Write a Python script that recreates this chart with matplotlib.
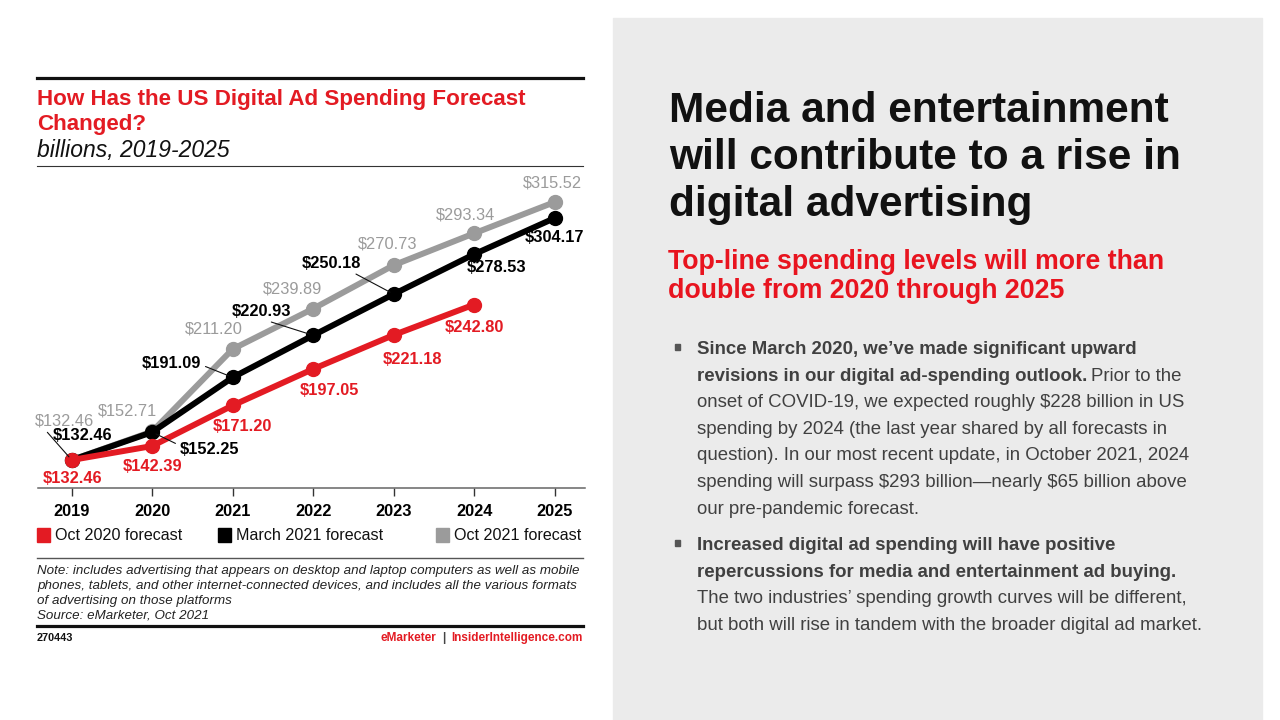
import matplotlib
matplotlib.use("Agg")
import matplotlib.pyplot as plt
from matplotlib.patches import Rectangle
from matplotlib.lines import Line2D

W, H = 1280, 720

# data
years = [2019, 2020, 2021, 2022, 2023, 2024, 2025]
oct2020 = [132.46, 142.39, 171.20, 197.05, 221.18, 242.80]
mar2021 = [132.46, 152.25, 191.09, 220.93, 250.18, 278.53, 304.17]
oct2021 = [132.46, 152.71, 211.20, 239.89, 270.73, 293.34, 315.52]
series_names = ["Oct 2020 forecast", "March 2021 forecast", "Oct 2021 forecast"]

RED = "#e31b23"
BLACK = "#000000"
GRAY = "#9b9b9b"

# label offsets from the point, in pixels (x right, y down)
red_off = [(1, 18), (0, 20), (10, 21), (16, 22), (19, 25), (0, 23)]
black_off = [(11, -25), (57, 17), (-61, -14), (-52, -24), (-62, -31), (22, 13), (0, 19)]
gray_off = [(-7, -39), (-25, -20), (-19, -20), (-21, -20), (-6, -21), (-9, -18), (-2, -19)]
# leader lines: index -> relpos on the label
black_leaders = {1: (0.0, 0.75), 2: (1.0, 0.4), 3: (0.5, 0.0), 4: (0.8, 0.0)}
gray_leaders = {0: (0.15, 0.0)}

plt.rcParams["font.family"] = ["Liberation Sans", "DejaVu Sans"]
plt.rcParams["text.parse_math"] = False

fig = plt.figure(figsize=(12.8, 7.2), dpi=100)
fig.patch.set_facecolor("white")


def fx(x):
    return x / W


def fy(y):
    return 1 - y / H


def txt(x, y, s, **kw):
    return fig.text(fx(x), fy(y), s, **kw)


def hrule(y, x0, x1, lw, color):
    fig.add_artist(Line2D([fx(x0), fx(x1)], [fy(y), fy(y)], lw=lw, color=color,
                          transform=fig.transFigure))


# ---- left: chart card ----
hrule(78, 37, 583, 2.3, "#111111")
txt(37, 105, "How Has the US Digital Ad Spending Forecast", fontsize=16.1, fontweight="bold",
    color=RED, va="baseline")
txt(37, 130, "Changed?", fontsize=16.1, fontweight="bold", color=RED, va="baseline")
txt(37, 157, "billions, 2019-2025", fontsize=16.5, fontstyle="italic", color="#111111", va="baseline")
hrule(166, 37, 583, 0.8, "#333333")

ax = fig.add_axes([fx(38), fy(488), (585 - 38) / W, (488 - 170) / H])
ax.set_xlim(2018.581, 2025.376)
ax.set_ylim(112.59, 338.28)
ax.patch.set_alpha(0)
for s in ["top", "left", "right"]:
    ax.spines[s].set_visible(False)
ax.spines["bottom"].set_color("#666666")
ax.spines["bottom"].set_linewidth(1.1)
ax.set_yticks([])
ax.set_xticks(years)
ax.set_xticklabels([str(y) for y in years])
ax.tick_params(axis="x", direction="out", length=5.5, width=1.0, color="#333333", pad=6,
               labelsize=11.8)
for lab in ax.get_xticklabels():
    lab.set_fontweight("bold")

series = [
    (oct2021, GRAY, gray_off, gray_leaders, "normal", 2),
    (mar2021, BLACK, black_off, black_leaders, "bold", 3),
    (oct2020, RED, red_off, {}, "bold", 4),
]
for vals, col, offs, leaders, weight, z in series:
    xs = years[:len(vals)]
    ax.plot(xs, vals, color=col, lw=4.3, marker="o", markersize=10, zorder=z,
            solid_capstyle="round")
    for i, (x, v) in enumerate(zip(xs, vals)):
        dx, dy = offs[i]
        kw = {}
        if i in leaders:
            kw["arrowprops"] = dict(arrowstyle="-", color="#111111", lw=0.8,
                                    relpos=leaders[i], shrinkA=1, shrinkB=3)
        ax.annotate(f"${v:.2f}", xy=(x, v), xytext=(dx, -dy), textcoords="offset pixels",
                    ha="center", va="center", fontsize=11.8, fontweight=weight, color=col,
                    zorder=6, **kw)

# legend
leg_x = [37, 218, 436]
for name, col, lx in zip(series_names, [RED, BLACK, GRAY], leg_x):
    fig.add_artist(Rectangle((fx(lx), fy(542)), 13 / W, 14 / H, color=col,
                             transform=fig.transFigure))
    txt(lx + 18, 535, name, fontsize=11.6, color="#111111", va="center")

hrule(558, 37, 583, 1.0, "#555555")
note = ["Note: includes advertising that appears on desktop and laptop computers as well as mobile",
        "phones, tablets, and other internet-connected devices, and includes all the various formats",
        "of advertising on those platforms",
        "Source: eMarketer, Oct 2021"]
for i, line in enumerate(note):
    txt(37, 574 + i * 15, line, fontsize=9.6, fontstyle="italic", color="#222222", va="baseline")
hrule(626, 37, 583, 2.3, "#111111")
txt(37, 641, "270443", fontsize=7.8, fontweight="bold", color="#111111", va="baseline")

r = fig.canvas.get_renderer()
t = txt(583, 641, "InsiderIntelligence.com", fontsize=8.5, fontweight="bold", color=RED,
        va="baseline", ha="right")
x0 = t.get_window_extent(renderer=r).x0
t = txt(x0 - 6, 641, "|", fontsize=8.5, fontweight="bold", color="#444444", va="baseline", ha="right")
x0 = t.get_window_extent(renderer=r).x0
txt(x0 - 6, 641, "eMarketer", fontsize=8.5, fontweight="bold", color=RED, va="baseline", ha="right")

# ---- right: gray text panel ----
fig.add_artist(Rectangle((fx(613), 0), (1262 - 613) / W, (720 - 18) / H, color="#ebebeb",
                         transform=fig.transFigure, zorder=0))

head = ["Media and entertainment", "will contribute to a rise in", "digital advertising"]
for i, line in enumerate(head):
    txt(669, 122 + i * 47, line, fontsize=30.5, fontweight="bold", color="#111111", va="baseline")

sub = ["Top-line spending levels will more than", "double from 2020 through 2025"]
for i, line in enumerate(sub):
    txt(668, 269 + i * 29, line, fontsize=19.3, fontweight="bold", color="#e8141f", va="baseline")

BODY = "#404040"
bfs = 13.4
step = 26.6


def bullet(y):
    fig.add_artist(Rectangle((fx(675), fy(y - 4)), 5 / W, 6 / H, color="#555555",
                             transform=fig.transFigure))


y = 354
bullet(y)
txt(697, y, "Since March 2020, we\u2019ve made significant upward", fontsize=bfs,
    fontweight="bold", color=BODY, va="baseline")
y += step
t = txt(697, y, "revisions in our digital ad-spending outlook.", fontsize=bfs,
        fontweight="bold", color=BODY, va="baseline")
x1 = t.get_window_extent(renderer=r).x1
txt(x1 + 4, y, "Prior to the", fontsize=bfs, color=BODY, va="baseline")
for line in ["onset of COVID-19, we expected roughly $228 billion in US",
             "spending by 2024 (the last year shared by all forecasts in",
             "question). In our most recent update, in October 2021, 2024",
             "spending will surpass $293 billion\u2014nearly $65 billion above",
             "our pre-pandemic forecast."]:
    y += step
    txt(697, y, line, fontsize=bfs, color=BODY, va="baseline")

y = 550
bullet(y)
txt(697, y, "Increased digital ad spending will have positive", fontsize=bfs,
    fontweight="bold", color=BODY, va="baseline")
y += step
txt(697, y, "repercussions for media and entertainment ad buying.", fontsize=bfs,
    fontweight="bold", color=BODY, va="baseline")
for line in ["The two industries\u2019 spending growth curves will be different,",
             "but both will rise in tandem with the broader digital ad market."]:
    y += step
    txt(697, y, line, fontsize=bfs, color=BODY, va="baseline")

fig.savefig("out.png", dpi=100)
